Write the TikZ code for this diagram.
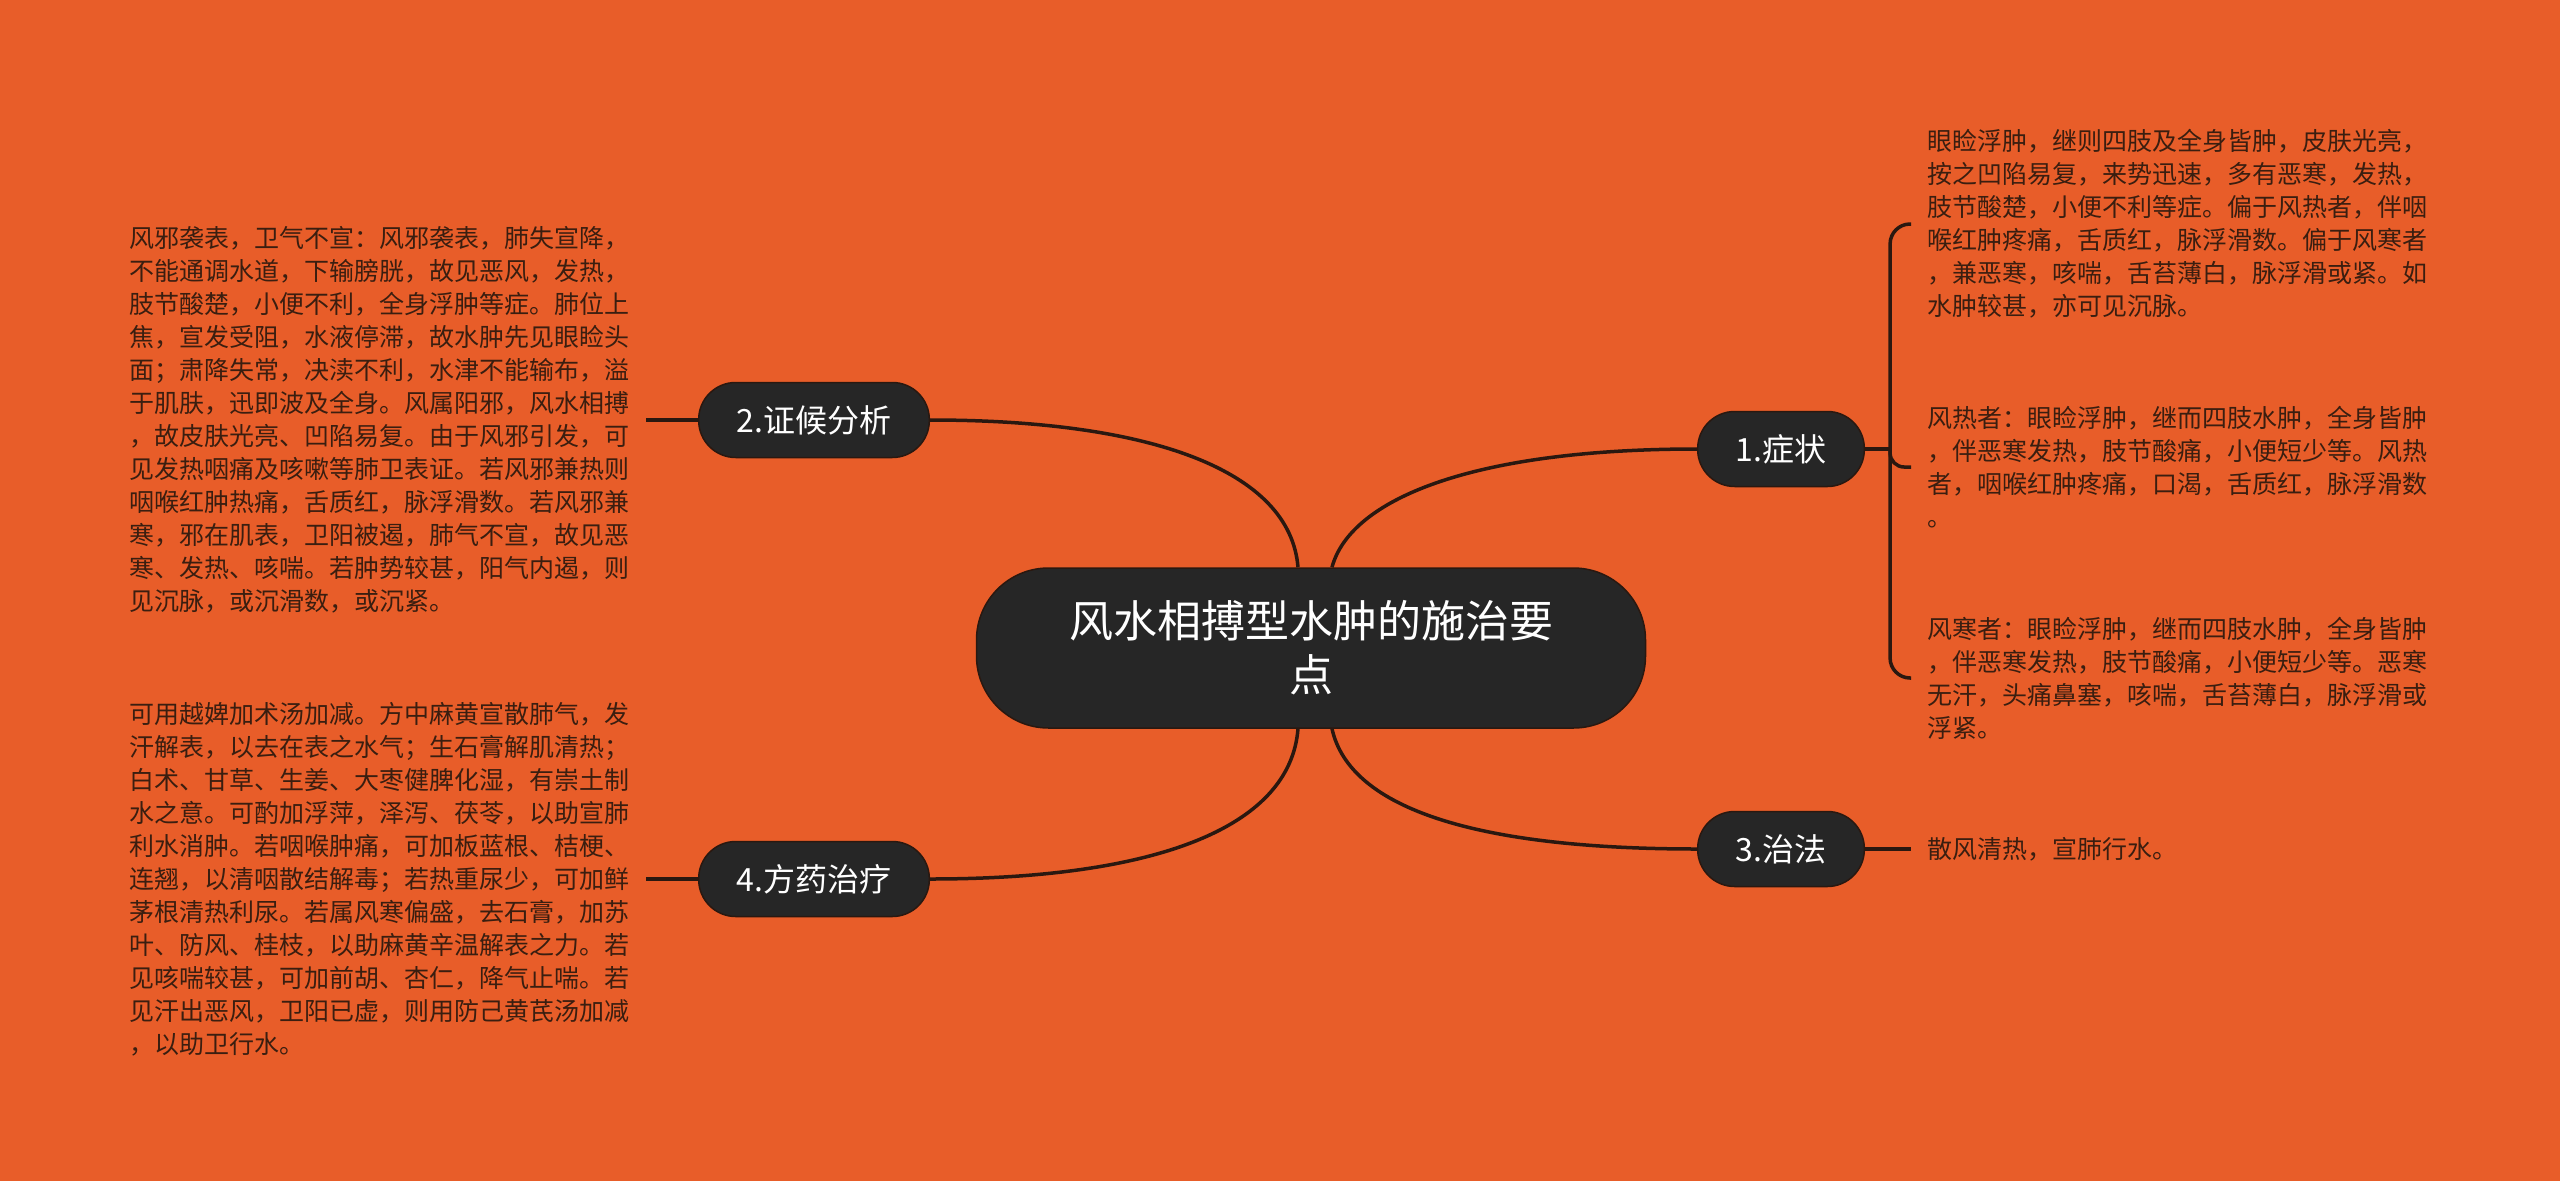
\documentclass[tikz,border=0pt]{standalone}
\usepackage{fontspec}
\setmainfont{Noto Sans CJK SC}
\usepackage{xcolor}
\usepackage{tikz}
\usetikzlibrary{positioning}
\definecolor{Grund}{HTML}{E85D29}
\definecolor{Knoten}{HTML}{262626}
\definecolor{Linie}{HTML}{2A1810}
\definecolor{Schrift}{HTML}{3A1E10}
\tikzset{
  Kern/.style={fill=Knoten, draw=Linie, line width=1.5pt, text=white,
    rounded corners=72pt, minimum width=669pt, minimum height=160pt,
    align=center, font=\fontsize{44}{54}\selectfont}, % Hauptthema
  Ast/.style={fill=Knoten, draw=Linie, line width=1.5pt, text=white,
    rounded corners=37pt, minimum height=75pt, inner xsep=38pt,
    font=\fontsize{32}{38}\selectfont}, % Hauptaeste
  Blatt/.style={text=Schrift, align=left, inner xsep=16pt, inner ysep=0pt,
    font=\fontsize{25}{33}\selectfont}, % Erlaeuterungen
  Verb/.style={draw=Linie, line width=3.5pt} % Verbindungen
}

\begin{document}
\begin{tikzpicture}[x=1pt, y=-1pt]
\useasboundingbox (0,0) rectangle (2560,1181);
\fill[Grund] (0,0) rectangle (2560,1181);

%Knoten
\node[Kern] (kern) at (1311,648) {风水相搏型水肿的施治要\\点};
\node[Ast] (ast1) at (1781,449) {1.症状};
\node[Ast] (ast2) at (814,420) {2.证候分析};
\node[Ast] (ast3) at (1781,849) {3.治法};
\node[Ast] (ast4) at (814,879) {4.方药治疗};

%Erlaeuterungen rechts
\node[Blatt, anchor=west] (sym1) at (1911,224) {眼睑浮肿，继则四肢及全身皆肿，皮肤光亮，\\
按之凹陷易复，来势迅速，多有恶寒，发热，\\
肢节酸楚，小便不利等症。偏于风热者，伴咽\\
喉红肿疼痛，舌质红，脉浮滑数。偏于风寒者\\
，兼恶寒，咳喘，舌苔薄白，脉浮滑或紧。如\\
水肿较甚，亦可见沉脉。};
\node[Blatt, anchor=west] (sym2) at (1911,467) {风热者：眼睑浮肿，继而四肢水肿，全身皆肿\\
，伴恶寒发热，肢节酸痛，小便短少等。风热\\
者，咽喉红肿疼痛，口渴，舌质红，脉浮滑数\\
。};
\node[Blatt, anchor=west] (sym3) at (1911,678) {风寒者：眼睑浮肿，继而四肢水肿，全身皆肿\\
，伴恶寒发热，肢节酸痛，小便短少等。恶寒\\
无汗，头痛鼻塞，咳喘，舌苔薄白，脉浮滑或\\
浮紧。};
\node[Blatt, right=46pt of ast3] (zhi) {散风清热，宣肺行水。};

%Erlaeuterungen links
\node[Blatt, left=52pt of ast2] (zheng) {风邪袭表，卫气不宣：风邪袭表，肺失宣降，\\
不能通调水道，下输膀胱，故见恶风，发热，\\
肢节酸楚，小便不利，全身浮肿等症。肺位上\\
焦，宣发受阻，水液停滞，故水肿先见眼睑头\\
面；肃降失常，决渎不利，水津不能输布，溢\\
于肌肤，迅即波及全身。风属阳邪，风水相搏\\
，故皮肤光亮、凹陷易复。由于风邪引发，可\\
见发热咽痛及咳嗽等肺卫表证。若风邪兼热则\\
咽喉红肿热痛，舌质红，脉浮滑数。若风邪兼\\
寒，邪在肌表，卫阳被遏，肺气不宣，故见恶\\
寒、发热、咳喘。若肿势较甚，阳气内遏，则\\
见沉脉，或沉滑数，或沉紧。};
\node[Blatt, left=52pt of ast4] (fang) {可用越婢加术汤加减。方中麻黄宣散肺气，发\\
汗解表，以去在表之水气；生石膏解肌清热；\\
白术、甘草、生姜、大枣健脾化湿，有崇土制\\
水之意。可酌加浮萍，泽泻、茯苓，以助宣肺\\
利水消肿。若咽喉肿痛，可加板蓝根、桔梗、\\
连翘，以清咽散结解毒；若热重尿少，可加鲜\\
茅根清热利尿。若属风寒偏盛，去石膏，加苏\\
叶、防风、桂枝，以助麻黄辛温解表之力。若\\
见咳喘较甚，可加前胡、杏仁，降气止喘。若\\
见汗出恶风，卫阳已虚，则用防己黄芪汤加减\\
，以助卫行水。};

%Verbindungen
\draw[Verb] ([xshift=21pt]kern.north) .. controls (1350,500) and (1470,449) .. (ast1.west);
\draw[Verb] ([xshift=-13pt]kern.north) .. controls (1290,470) and (1150,420) .. (ast2.east);
\draw[Verb] ([xshift=21pt]kern.south) .. controls (1350,810) and (1480,849) .. (ast3.west);
\draw[Verb] ([xshift=-13pt]kern.south) .. controls (1290,830) and (1150,879) .. (ast4.east);

\coordinate (klammer) at ([xshift=25pt]ast1.east);
\draw[Verb] (ast1.east) -- (klammer);
\draw[Verb, rounded corners=20pt] (klammer) |- (sym1.west);
\draw[Verb, rounded corners=14pt] (klammer) |- (sym2.west);
\draw[Verb, rounded corners=20pt] (klammer) |- (sym3.west);
\draw[Verb] (ast3.east) -- (zhi.west);
\draw[Verb] (ast2.west) -- (zheng.east);
\draw[Verb] (ast4.west) -- (fang.east);

\end{tikzpicture}
\end{document}
